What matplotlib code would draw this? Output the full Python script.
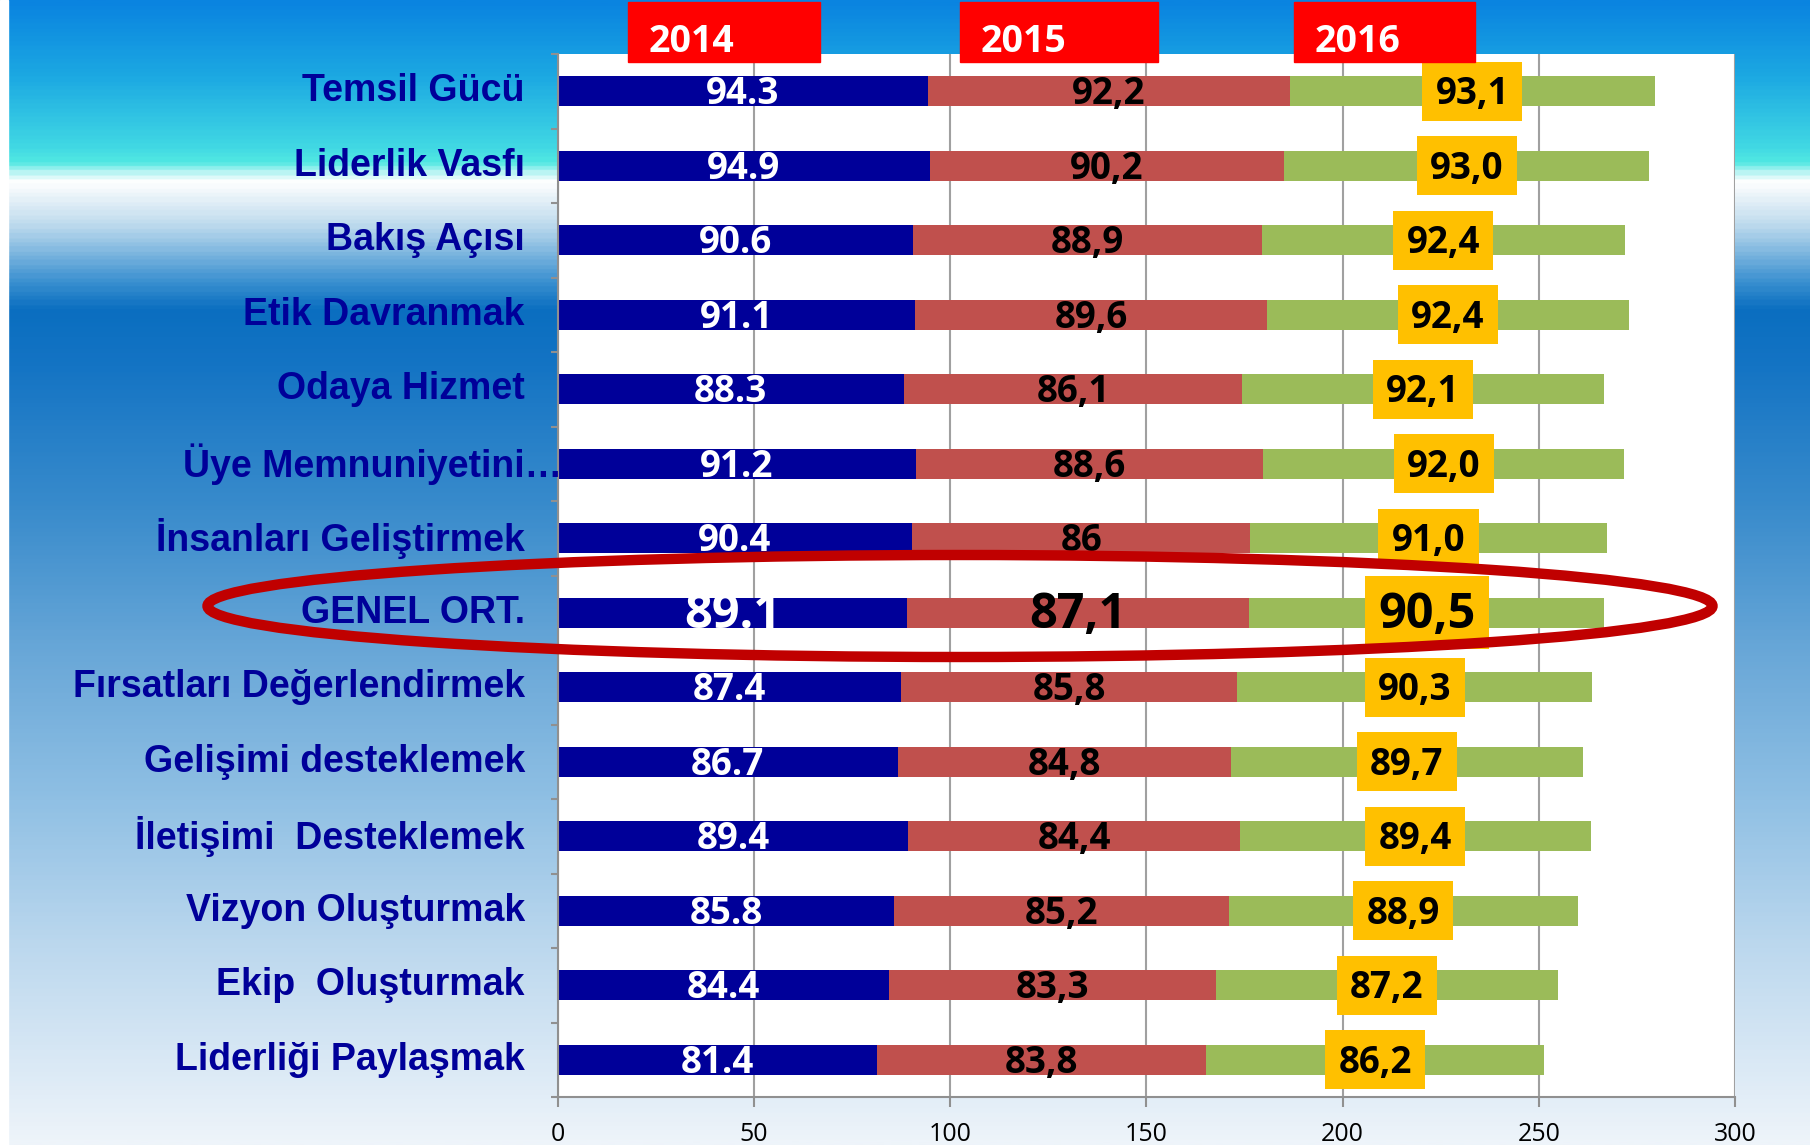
import numpy as np
import matplotlib.pyplot as plt
from matplotlib.colors import LinearSegmentedColormap
from matplotlib.patches import Rectangle, Ellipse

categories = ['Temsil Gücü', 'Liderlik Vasfı', 'Bakış Açısı', 'Etik Davranmak',
              'Odaya Hizmet', 'Üye Memnuniyetini…', 'İnsanları Geliştirmek',
              'GENEL ORT.', 'Fırsatları Değerlendirmek', 'Gelişimi desteklemek',
              'İletişimi  Desteklemek', 'Vizyon Oluşturmak', 'Ekip  Oluşturmak',
              'Liderliği Paylaşmak']
years = ['2014', '2015', '2016']
v2014 = [94.3, 94.9, 90.6, 91.1, 88.3, 91.2, 90.4, 89.1, 87.4, 86.7, 89.4, 85.8, 84.4, 81.4]
v2015 = [92.2, 90.2, 88.9, 89.6, 86.1, 88.6, 86.0, 87.1, 85.8, 84.8, 84.4, 85.2, 83.3, 83.8]
v2016 = [93.1, 93.0, 92.4, 92.4, 92.1, 92.0, 91.0, 90.5, 90.3, 89.7, 89.4, 88.9, 87.2, 86.2]
lab2014 = ['94.3', '94.9', '90.6', '91.1', '88.3', '91.2', '90.4', '89.1', '87.4', '86.7', '89.4', '85.8', '84.4', '81.4']
lab2015 = ['92,2', '90,2', '88,9', '89,6', '86,1', '88,6', '86', '87,1', '85,8', '84,8', '84,4', '85,2', '83,3', '83,8']
lab2016 = ['93,1', '93,0', '92,4', '92,4', '92,1', '92,0', '91,0', '90,5', '90,3', '89,7', '89,4', '88,9', '87,2', '86,2']
highlight = 'GENEL ORT.'

W, H = 1810, 1145
fig = plt.figure(figsize=(W / 100, H / 100), dpi=100)

# background gradient
bg = fig.add_axes([0, 0, 1, 1])
bg.axis('off')
stops = [(0, '#0a84e0'), (73, '#1ca8e2'), (142, '#3fd6e4'), (160, '#50e8e2'),
         (172, '#c8f6f6'), (180, '#ffffff'), (222, '#c0dcee'), (280, '#3a90d0'),
         (308, '#0a6ec0'), (365, '#1474c4'), (511, '#3a8ccc'), (657, '#6aa8d8'),
         (803, '#90c0e4'), (949, '#bcd8ee'), (1145, '#eef4fa')]
cmap = LinearSegmentedColormap.from_list('bg', [(p / H, c) for p, c in stops])
bg.imshow(np.linspace(0, 1, 600).reshape(-1, 1), cmap=cmap, aspect='auto',
          extent=[0, 1, 0, 1])
bg.set_xlim(0, 1); bg.set_ylim(0, 1)
fig.add_artist(Rectangle((0, 0), 8 / W, 1, transform=fig.transFigure,
                         color='white', zorder=1))

x0, x1, ytop, ybot = 557.6, 1735, 54, 1097
ax = fig.add_axes([x0 / W, 1 - ybot / H, (x1 - x0) / W, (ybot - ytop) / H])
ax.set_facecolor('white')

y = np.arange(len(categories))
a = np.array(v2014); b = np.array(v2015); c = np.array(v2016)
ax.barh(y, a, height=0.4, color='#000099', zorder=2)
ax.barh(y, b, left=a, height=0.4, color='#C0504D', zorder=2)
ax.barh(y, c, left=a + b, height=0.4, color='#9BBB59', zorder=2)

big = np.array([cat == highlight for cat in categories])
box_w = np.where(big, 31.6, 25.5)
box_h = np.where(big, 0.98, 0.79)
mid16 = a + b + c / 2
ax.barh(y, box_w, left=mid16 - box_w / 2, height=box_h, color='#FFC000', zorder=3)

vfont = ['Open Sans', 'DejaVu Sans']
for i in range(len(categories)):
    fs = 35 if big[i] else 26.5
    ax.text(a[i] / 2, y[i] + 0.04, lab2014[i], ha='center', va='center', color='white',
            fontsize=fs, fontweight='bold', family=vfont, zorder=4)
    ax.text(a[i] + b[i] / 2, y[i] + 0.04, lab2015[i], ha='center', va='center', color='black',
            fontsize=fs, fontweight='bold', family=vfont, zorder=4)
    ax.text(mid16[i], y[i] + 0.04, lab2016[i], ha='center', va='center', color='black',
            fontsize=fs, fontweight='bold', family=vfont, zorder=4)
    xl = 0.004 if categories[i].endswith('…') else -0.0277
    ax.text(xl, y[i], categories[i], transform=ax.get_yaxis_transform(),
            ha='right', va='center', color='#000099', fontsize=27, fontweight='bold',
            family=['Liberation Sans', 'DejaVu Sans'], zorder=4, clip_on=False)

ax.set_xlim(0, 300)
ax.set_ylim(len(categories) - 0.5, -0.5)
ax.set_xticks(np.arange(0, 301, 50))
ax.set_xticklabels([str(t) for t in range(0, 301, 50)], family=vfont, fontsize=18)
ax.set_yticks(np.arange(-0.5, len(categories), 1.0))
ax.set_yticklabels([])
ax.tick_params(axis='x', length=7, width=1.5, color='#909090', pad=11)
ax.tick_params(axis='y', length=5, width=1.5, color='#909090')
ax.xaxis.grid(True, color='#a0a0a0', lw=1.5, zorder=1)
ax.set_axisbelow(True)
for s in ['top', 'right']:
    ax.spines[s].set_visible(False)
for s in ['left', 'bottom']:
    ax.spines[s].set_color('#909090')
    ax.spines[s].set_linewidth(1.5)

# year header boxes
headers = [(628, 820, 649), (960, 1158, 981), (1294, 1475, 1315)]
for yr, (bx0, bx1, tx) in zip(years, headers):
    fig.add_artist(Rectangle((bx0 / W, 1 - 62 / H), (bx1 - bx0) / W, 60 / H,
                             transform=fig.transFigure, color='#FF0000', zorder=5))
    fig.text(tx / W, 1 - 42 / H, yr, color='white', fontsize=27, fontweight='bold',
             family=vfont, ha='left', va='center', zorder=6)

# ellipse around the average row
fig.add_artist(Ellipse((960 / W, 1 - 606 / H), 1505 / W, 102 / H, transform=fig.transFigure,
                       fill=False, ec='#C00000', lw=7.5, zorder=7))

fig.savefig('out.png', dpi=100)
